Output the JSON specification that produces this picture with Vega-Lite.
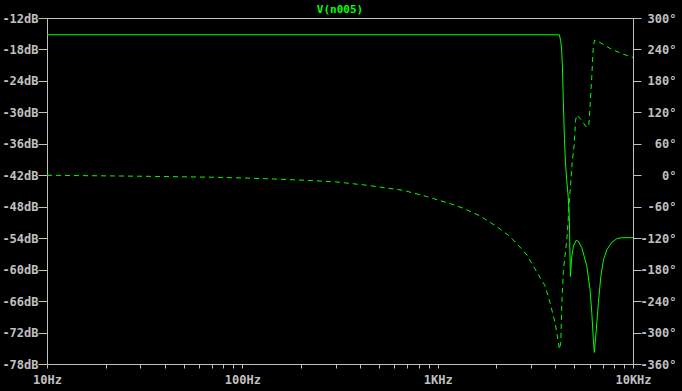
{
  "$schema": "https://vega.github.io/schema/vega-lite/v6.json",
  "width": 586,
  "height": 346,
  "autosize": {"type": "none"},
  "padding": {"left": 47, "top": 18, "right": 49, "bottom": 27},
  "background": "#000000",
  "config": {
    "view": {"stroke": "#c0c0c0", "strokeWidth": 1},
    "axis": {
      "grid": false,
      "domainColor": "#c0c0c0",
      "tickColor": "#c0c0c0",
      "labelColor": "#c0c0c0",
      "labelFont": "DejaVu Sans Mono",
      "labelFontSize": 12,
      "labelFontWeight": "bold",
      "title": null,
      "labelOverlap": false,
      "labelFlush": false
    }
  },
  "title": {
    "text": "V(n005)",
    "color": "#00ff00",
    "font": "DejaVu Sans Mono",
    "fontSize": 11,
    "fontWeight": "bold",
    "anchor": "middle",
    "offset": -3
  },
  "datasets": {
    "mag": [
      {"f": 10, "db": -15.2},
      {"f": 4198, "db": -15.2},
      {"f": 4270, "db": -16.5},
      {"f": 4318, "db": -18.5},
      {"f": 4350, "db": -21},
      {"f": 4400, "db": -28},
      {"f": 4456, "db": -35},
      {"f": 4508, "db": -39.5},
      {"f": 4581, "db": -43},
      {"f": 4656, "db": -46},
      {"f": 4720, "db": -50},
      {"f": 4780, "db": -61.3},
      {"f": 4864, "db": -57.4},
      {"f": 4955, "db": -55.5},
      {"f": 5117, "db": -54.4},
      {"f": 5250, "db": -54.6},
      {"f": 5468, "db": -55.8},
      {"f": 5800, "db": -59.3},
      {"f": 6026, "db": -63.8},
      {"f": 6150, "db": -68.1},
      {"f": 6266, "db": -73.3},
      {"f": 6340, "db": -75.8},
      {"f": 6471, "db": -72.0},
      {"f": 6650, "db": -66.3},
      {"f": 6842, "db": -61.3},
      {"f": 7063, "db": -58.1},
      {"f": 7347, "db": -56.2},
      {"f": 7786, "db": -54.8},
      {"f": 8260, "db": -54.1},
      {"f": 8770, "db": -53.9},
      {"f": 10000, "db": -53.9}
    ],
    "phase": [
      {"f": 10, "deg": 0},
      {"f": 31.8, "deg": -1.9},
      {"f": 73, "deg": -3.8},
      {"f": 113, "deg": -5.7},
      {"f": 156, "deg": -7.6},
      {"f": 209, "deg": -9.5},
      {"f": 300, "deg": -12.5},
      {"f": 433, "deg": -19},
      {"f": 665, "deg": -28.6},
      {"f": 879, "deg": -40.6},
      {"f": 1157, "deg": -54},
      {"f": 1354, "deg": -63},
      {"f": 1649, "deg": -77.6},
      {"f": 2008, "deg": -98},
      {"f": 2351, "deg": -117},
      {"f": 2698, "deg": -141},
      {"f": 2860, "deg": -152},
      {"f": 3344, "deg": -195},
      {"f": 3548, "deg": -211},
      {"f": 3760, "deg": -243},
      {"f": 3990, "deg": -281},
      {"f": 4150, "deg": -319},
      {"f": 4200, "deg": -332},
      {"f": 4270, "deg": -319},
      {"f": 4318, "deg": -249},
      {"f": 4400, "deg": -183},
      {"f": 4545, "deg": -135},
      {"f": 4610, "deg": -112},
      {"f": 4740, "deg": -40},
      {"f": 4815, "deg": -8},
      {"f": 4880, "deg": 24},
      {"f": 4995, "deg": 56},
      {"f": 5080, "deg": 104},
      {"f": 5150, "deg": 115},
      {"f": 5400, "deg": 107},
      {"f": 5800, "deg": 91},
      {"f": 5940, "deg": 97},
      {"f": 6026, "deg": 132},
      {"f": 6150, "deg": 187},
      {"f": 6266, "deg": 247},
      {"f": 6370, "deg": 258},
      {"f": 6650, "deg": 255},
      {"f": 7630, "deg": 242},
      {"f": 8770, "deg": 232},
      {"f": 9590, "deg": 227},
      {"f": 10000, "deg": 225}
    ]
  },
  "layer": [
    {
      "data": {"name": "mag"},
      "mark": {"type": "line", "color": "#00ff00", "strokeWidth": 1, "clip": true, "interpolate": "linear"},
      "encoding": {
        "x": {
          "field": "f", "type": "quantitative",
          "scale": {"type": "log", "domain": [10, 10000], "nice": false},
          "axis": {
            "orient": "bottom",
            "values": [10,20,30,40,50,60,70,80,90,100,200,300,400,500,600,700,800,900,1000,2000,3000,4000,5000,6000,7000,8000,9000,10000],
            "labelExpr": "datum.value == 10 ? '10Hz' : datum.value == 100 ? '100Hz' : datum.value == 1000 ? '1KHz' : datum.value == 10000 ? '10KHz' : ''",
            "tickSize": 4,
            "labelPadding": 6
          }
        },
        "y": {
          "field": "db", "type": "quantitative",
          "scale": {"domain": [-78, -12], "nice": false, "zero": false},
          "axis": {
            "orient": "left",
            "values": [-78,-72,-66,-60,-54,-48,-42,-36,-30,-24,-18,-12],
            "labelExpr": "datum.value + 'dB'",
            "tickSize": 9,
            "labelPadding": 0
          }
        }
      }
    },
    {
      "data": {"name": "phase"},
      "mark": {"type": "line", "color": "#00ff00", "strokeWidth": 1, "strokeDash": [5, 4], "clip": true, "interpolate": "linear"},
      "encoding": {
        "x": {
          "field": "f", "type": "quantitative",
          "scale": {"type": "log", "domain": [10, 10000], "nice": false},
          "axis": {
            "orient": "bottom",
            "values": [10,20,30,40,50,60,70,80,90,100,200,300,400,500,600,700,800,900,1000,2000,3000,4000,5000,6000,7000,8000,9000,10000],
            "labelExpr": "datum.value == 10 ? '10Hz' : datum.value == 100 ? '100Hz' : datum.value == 1000 ? '1KHz' : datum.value == 10000 ? '10KHz' : ''",
            "tickSize": 4,
            "labelPadding": 6
          }
        },
        "y": {
          "field": "deg", "type": "quantitative",
          "scale": {"domain": [-360, 300], "nice": false, "zero": false},
          "axis": {
            "orient": "right",
            "values": [-360,-300,-240,-180,-120,-60,0,60,120,180,240,300],
            "labelExpr": "datum.value + '°'",
            "tickSize": 8,
            "labelPadding": 35,
            "labelAlign": "right"
          }
        }
      }
    }
  ],
  "resolve": {"scale": {"y": "independent"}}
}
